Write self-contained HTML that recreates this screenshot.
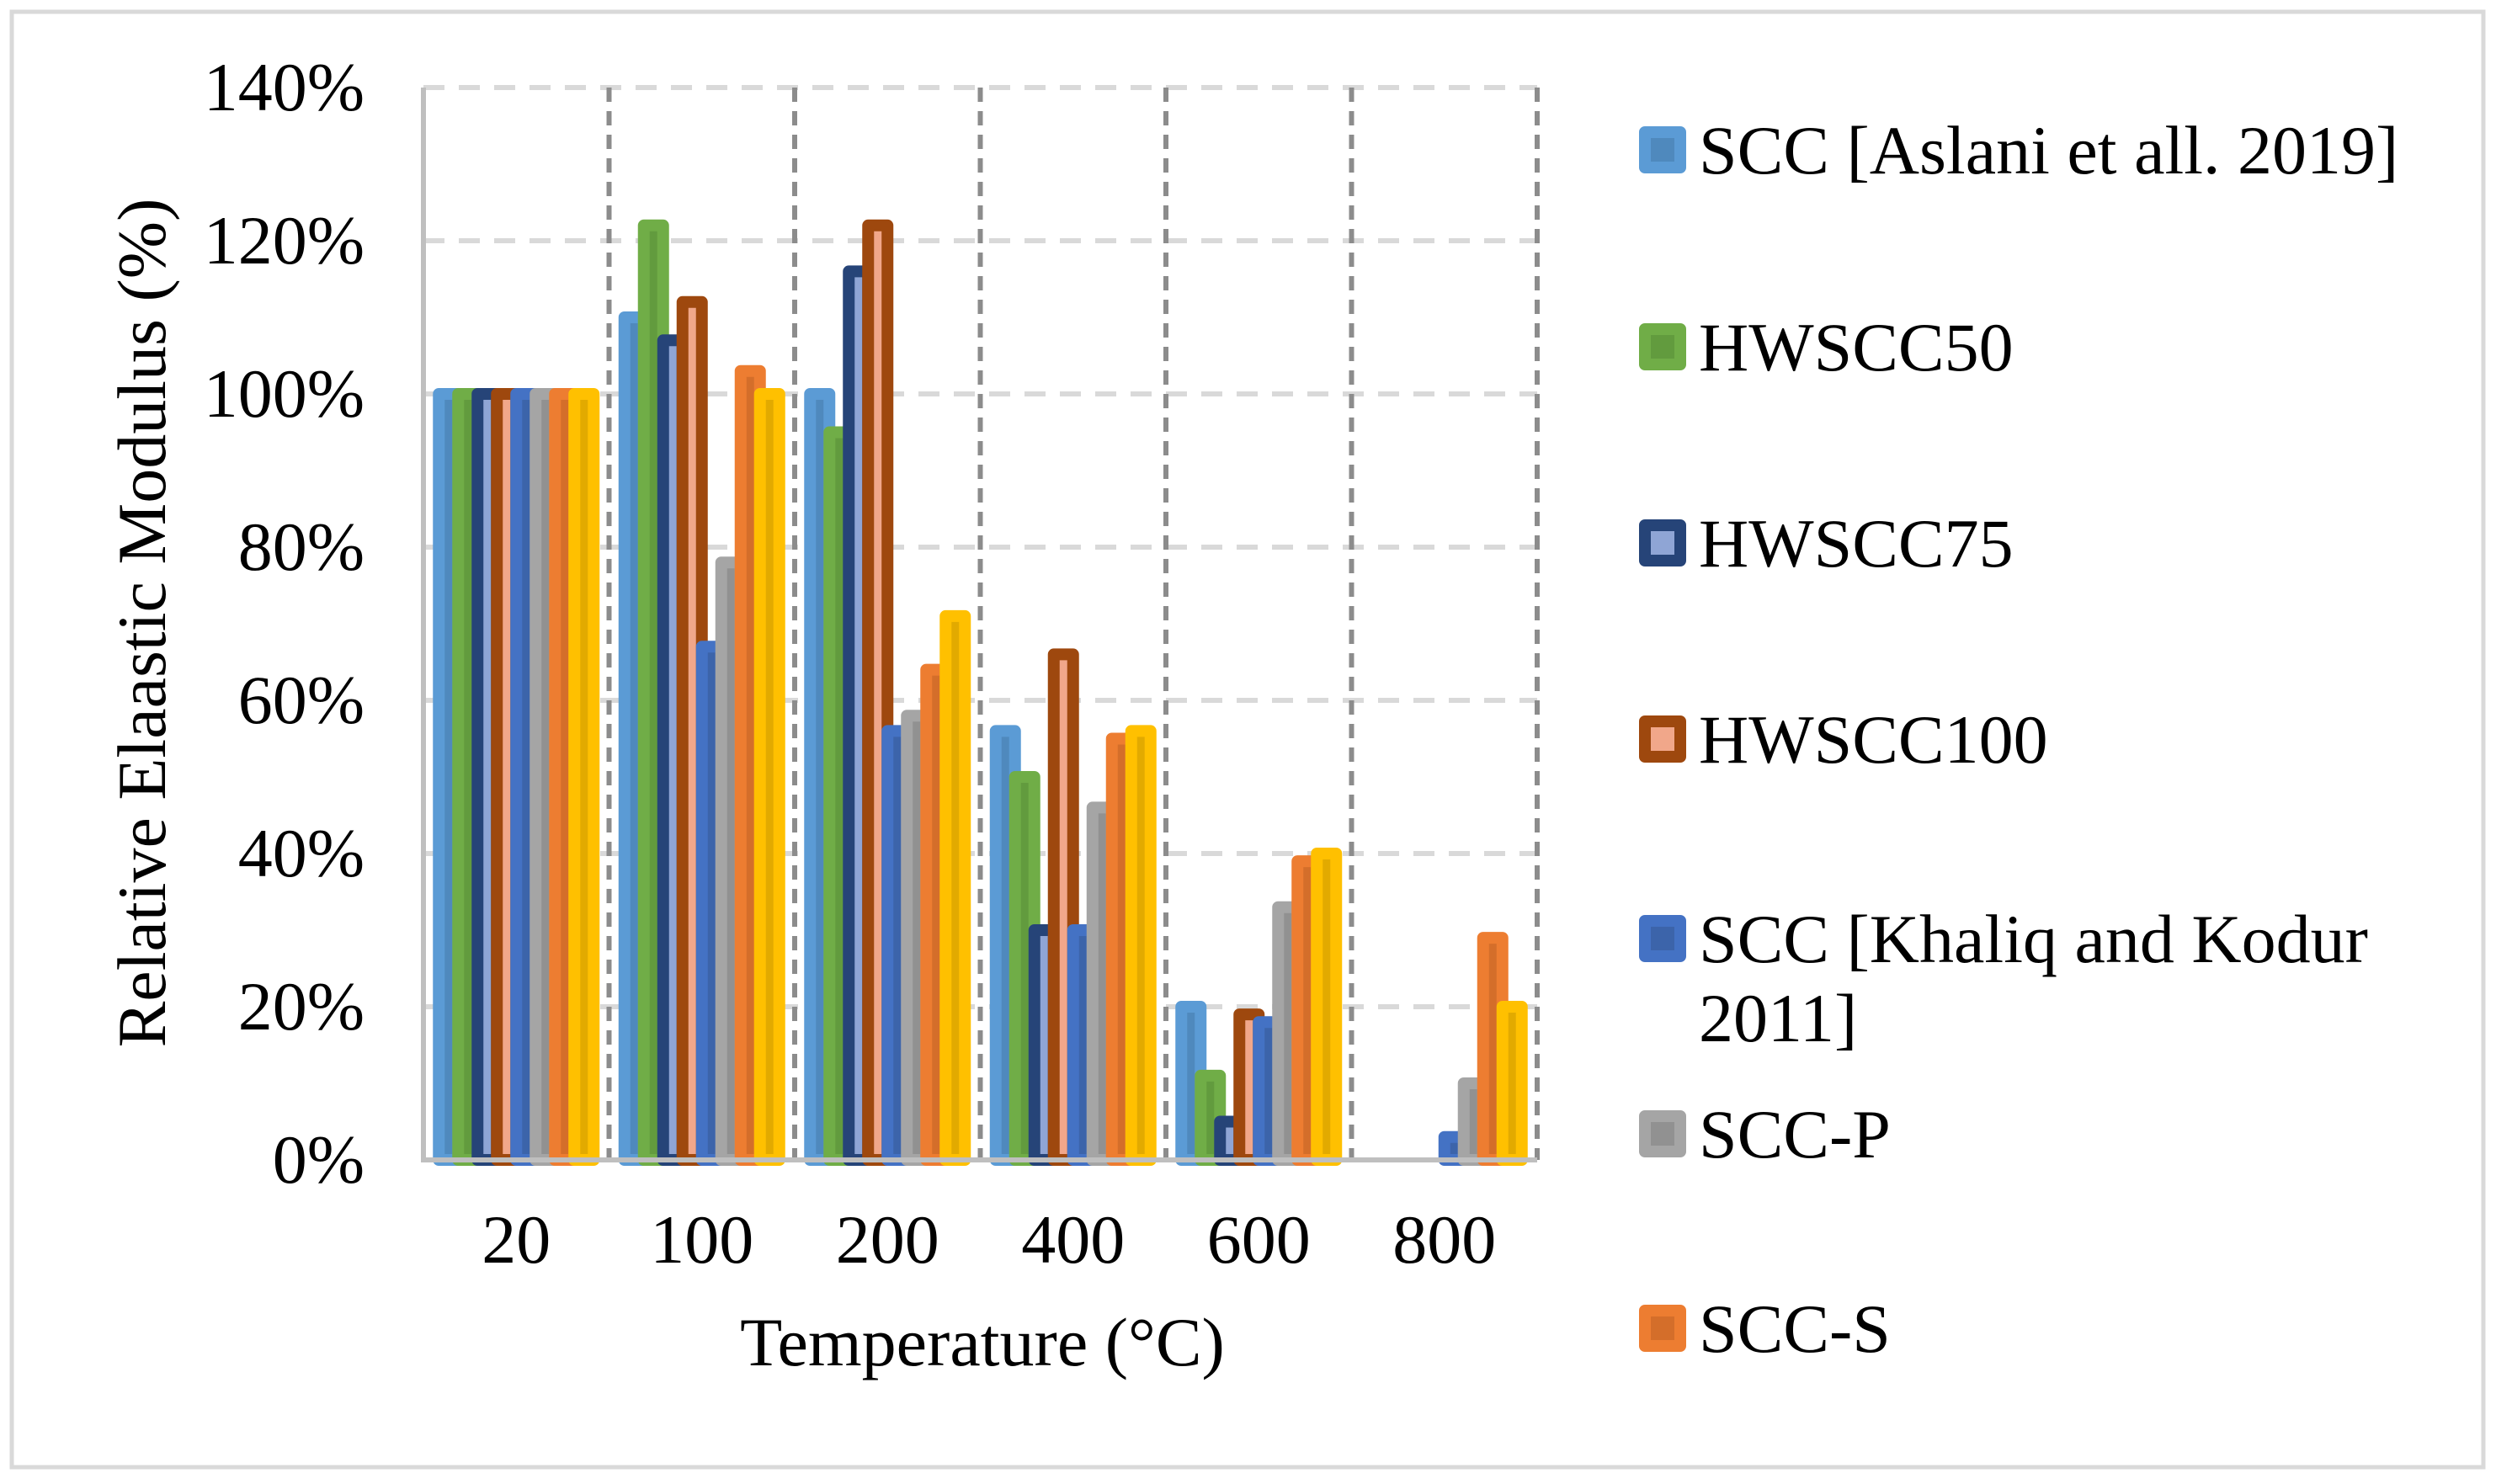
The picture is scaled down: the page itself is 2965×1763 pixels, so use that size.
<!DOCTYPE html>
<html><head><meta charset="utf-8"><style>
html,body{margin:0;padding:0;background:#fff;}
svg{display:block;}
text{font-family:"Liberation Serif",serif;fill:#000;}
</style></head><body>
<svg id="chart" width="2965" height="1763" viewBox="0 0 2965 1763">
<rect x="14" y="14" width="2936" height="1729" fill="#fff" stroke="#D9D9D9" stroke-width="5"/>
<g id="grid"></g>
<g id="bars"></g>
<g id="axes"></g>
<g id="legend"></g>
<text x="1167" y="1622" font-size="82" text-anchor="middle">Temperature (°C)</text>
<text transform="translate(196,740) rotate(-90)" font-size="82" text-anchor="middle">Relative Elaastic Modulus (%)</text>
</svg>
<script>
const categories = ["20","100","200","400","600","800"];
const seriesNames = ["SCC [Aslani et all. 2019]","HWSCC50","HWSCC75","HWSCC100","SCC [Khaliq and Kodur|2011]","SCC-P","SCC-S"];
const sAslani = [100,110,100,56,20,0];
const sHW50 = [100,122,95,50,11,0];
const sHW75 = [100,107,116,30,5,0];
const sHW100 = [100,112,122,66,19,0];
const sKhaliq = [100,67,56,30,18,3];
const sP = [100,78,58,46,33,10];
const sS = [100,103,64,55,39,29];
const sY = [100,100,71,56,40,20];
const yTicks = [0,20,40,60,80,100,120,140];

const NS="http://www.w3.org/2000/svg";
const L=503,R=1826,Y0=1378,YT=104,YMAX=140;
const cw=(R-L)/categories.length, bw=23;
function yS(v){return Y0-(v/YMAX)*(Y0-YT);}
function xC(i){return L+cw*i;}
function mk(tag,attrs,parent){const e=document.createElementNS(NS,tag);for(const k in attrs)e.setAttribute(k,attrs[k]);parent.appendChild(e);return e;}
const grid=document.getElementById('grid'),bars=document.getElementById('bars'),axes=document.getElementById('axes'),legend=document.getElementById('legend');

yTicks.forEach(t=>{
  if(t>0){const g=mk('line',{x1:L,x2:R,y1:yS(t),y2:yS(t),stroke:'#D9D9D9','stroke-width':6,'stroke-dasharray':'25 17'},grid);
  
  }
  const tx=mk('text',{x:433,y:yS(t)+27,'font-size':82,'text-anchor':'end'},axes);
  tx.textContent=t+'%';
  
  
});
for(let i=1;i<=categories.length;i++){
  const v=mk('line',{x1:xC(i),x2:xC(i),y1:YT,y2:Y0,stroke:'#8C8C8C','stroke-width':6,'stroke-dasharray':'17 11'},grid);
  
  
}
const series=[sAslani,sHW50,sHW75,sHW100,sKhaliq,sP,sS,sY];
const strokeC=['#5B9BD5','#70AD47','#264478','#9E480E','#4472C4','#A5A5A5','#ED7D31','#FFC000'];
const fillC=['#4F89BD','#629B3E','#8FA5D5','#F1A78A','#3C64AA','#919191','#D46E2A','#E2AA00'];
const nB=series.length, gOff=(cw-nB*bw)/2;
categories.forEach((c,i)=>{
  series.forEach((s,j)=>{
    const v=s[i]; if(v<=0) return;
    const x=xC(i)+gOff+j*bw, y=yS(v);
    const r=mk('rect',{x:x,y:y,width:bw,height:Y0-y,fill:fillC[j],stroke:strokeC[j],'stroke-width':14,'stroke-linejoin':'round'},bars);
    
    
  });
  const t=mk('text',{x:xC(i)+cw/2,y:1500,'font-size':82,'text-anchor':'middle'},axes);
  t.textContent=c;
  
  
});
const ax=mk('line',{x1:L,x2:R,y1:Y0,y2:Y0,stroke:'#BFBFBF','stroke-width':6},axes);


const ay=mk('line',{x1:L,x2:L,y1:YT,y2:Y0+3,stroke:'#BFBFBF','stroke-width':6},axes);



const legY=[178,412,645,878,1115,1347,1578];
seriesNames.forEach((n,j)=>{
  const cy=legY[j];
  const sq=mk('rect',{x:1954,y:cy-21,width:42,height:42,fill:fillC[j],stroke:strokeC[j],'stroke-width':14,'stroke-linejoin':'round'},legend);
  
  
  const parts=n.split('|');
  const t=mk('text',{x:2018,y:cy+28,'font-size':82},legend);
  
  
  parts.forEach((p,k)=>{const ts=mk('tspan',{x:2018,dy:k?94:0},t);ts.textContent=p;});
});
</script>
</body></html>
